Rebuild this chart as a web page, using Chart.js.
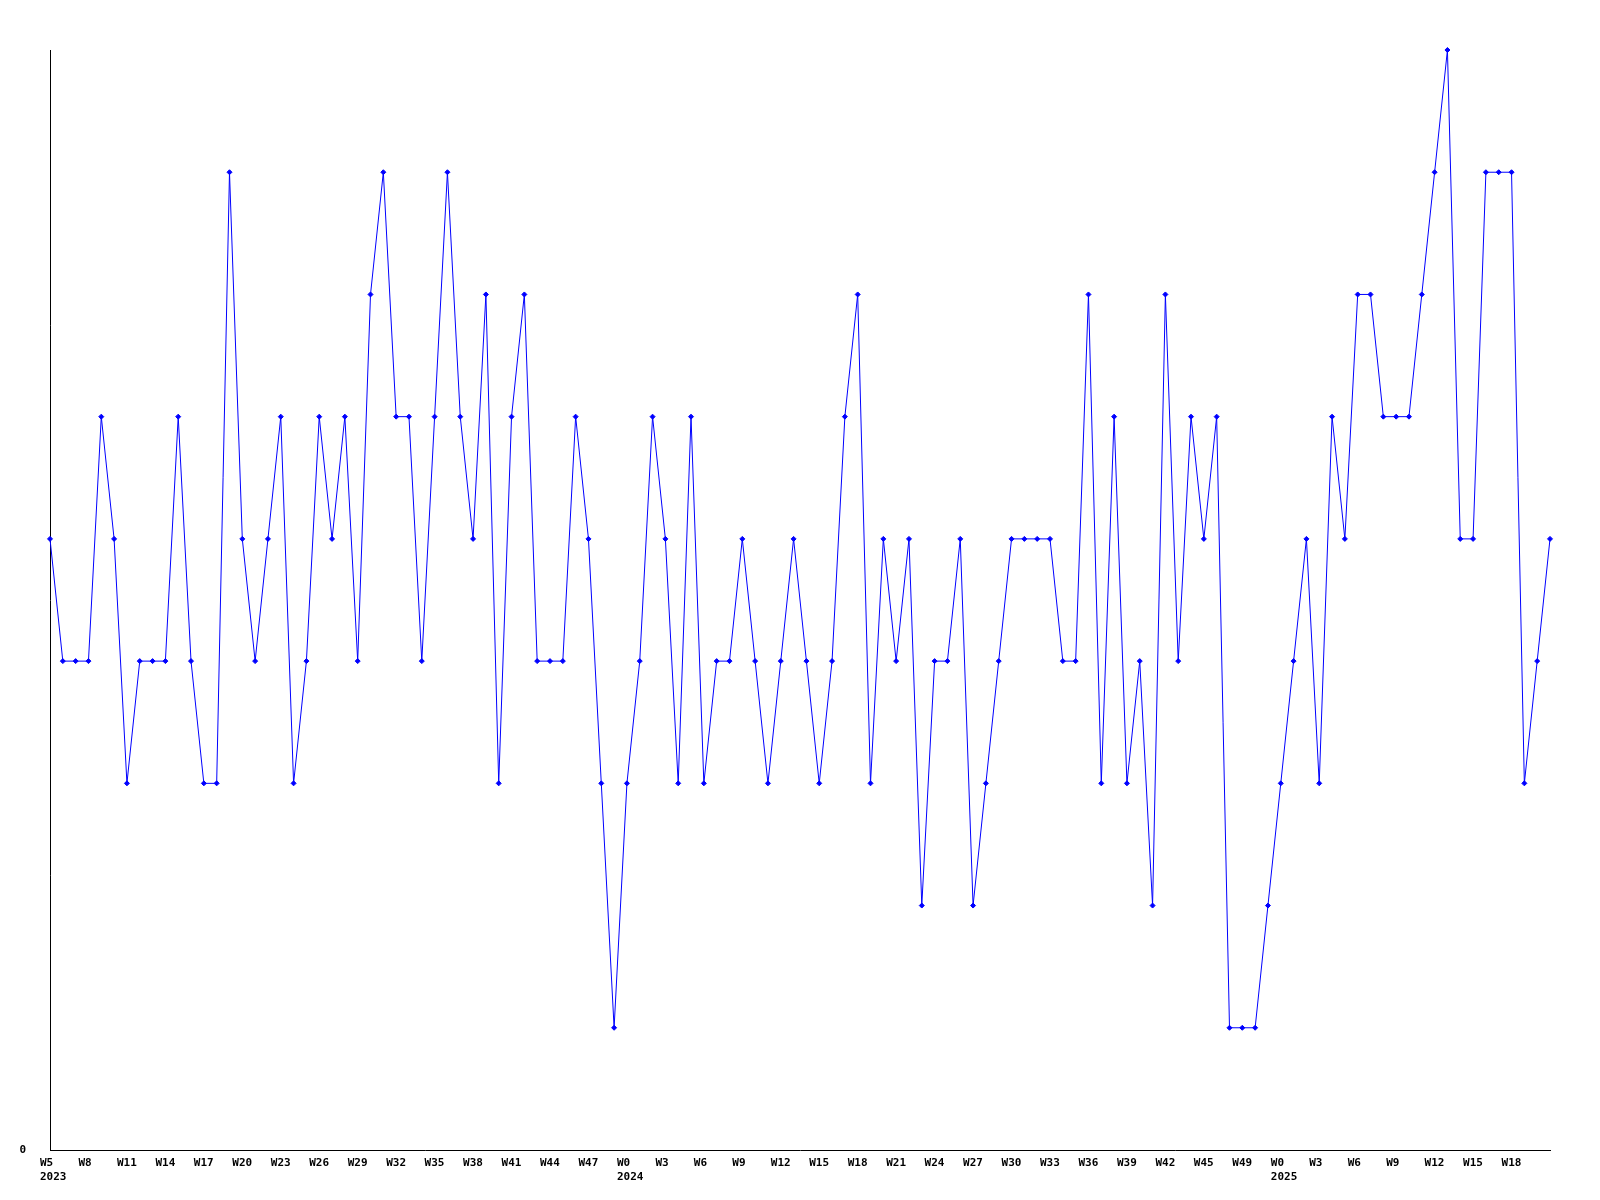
<!DOCTYPE html>
<html>
<head>
<meta charset="utf-8">
<script src="https://cdn.jsdelivr.net/npm/chart.js@4/dist/chart.umd.min.js"></script>
<style>
  html, body { margin: 0; padding: 0; background: #fff; }
  #wrap { width: 1600px; height: 1200px; }
</style>
</head>
<body>
<div id="wrap"><canvas id="weekChart"></canvas></div>
<script>
// valeurs hebdomadaires (une par semaine, de W5 2023 à W20 2025)
const weeklyValues = [
  5, 4, 4, 4, 6, 5, 3, 4, 4, 4,
  6, 4, 3, 3, 8, 5, 4, 5, 6, 3,
  4, 6, 5, 6, 4, 7, 8, 6, 6, 4,
  6, 8, 6, 5, 7, 3, 6, 7, 4, 4,
  4, 6, 5, 3, 1, 3, 4, 6, 5, 3,
  6, 3, 4, 4, 5, 4, 3, 4, 5, 4,
  3, 4, 6, 7, 3, 5, 4, 5, 2, 4,
  4, 5, 2, 3, 4, 5, 5, 5, 5, 4,
  4, 7, 3, 6, 3, 4, 2, 7, 4, 6,
  5, 6, 1, 1, 1, 2, 3, 4, 5, 3,
  6, 5, 7, 7, 6, 6, 6, 7, 8, 9,
  5, 5, 8, 8, 8, 3, 4, 5
];

// une étiquette toutes les 3 semaines
const tickEvery = 3;
const tickLabels = [
  "W5", "W8", "W11", "W14", "W17", "W20", "W23", "W26", "W29", "W32",
  "W35", "W38", "W41", "W44", "W47", "W0", "W3", "W6", "W9", "W12",
  "W15", "W18", "W21", "W24", "W27", "W30", "W33", "W36", "W39", "W42",
  "W45", "W49", "W0", "W3", "W6", "W9", "W12", "W15", "W18"
];
// année affichée sous certaines étiquettes (index dans tickLabels)
const yearLabels = { 0: "2023", 15: "2024", 32: "2025" };

const yMin = 0;
const yMax = 9;

const axisFont = { family: "'DejaVu Sans Mono', monospace", size: 11, weight: "bold", lineHeight: 1.3 };

const ctx = document.getElementById("weekChart");
new Chart(ctx, {
  type: "line",
  data: {
    labels: weeklyValues.map((_, i) => i),
    datasets: [{
      data: weeklyValues,
      borderColor: "#0000ff",
      backgroundColor: "#0000ff",
      borderWidth: 1,
      tension: 0,
      pointStyle: "rectRot",
      pointRadius: 2.5,
      pointBorderWidth: 1,
      clip: false,
      fill: false
    }]
  },
  options: {
    responsive: true,
    maintainAspectRatio: false,
    animation: false,
    layout: { padding: { top: 50, right: 50, left: 0, bottom: 0 } },
    plugins: {
      legend: { display: false },
      tooltip: { enabled: false }
    },
    scales: {
      x: {
        offset: false,
        grid: { display: false, drawTicks: false },
        border: { display: true, color: "#000", width: 1 },
        afterFit: (scale) => { scale.height = 50; },
        ticks: {
          autoSkip: false,
          maxRotation: 0,
          minRotation: 0,
          align: "start",
          labelOffset: -10,
          padding: 6,
          color: "#000",
          font: axisFont,
          callback: (val, idx) => {
            if (idx % tickEvery !== 0) return null;
            const k = idx / tickEvery;
            const lbl = tickLabels[k];
            return yearLabels[k] ? [lbl, yearLabels[k]] : lbl;
          }
        }
      },
      y: {
        min: yMin,
        max: yMax,
        grid: { display: false, drawTicks: false },
        border: { display: true, color: "#000", width: 1 },
        afterFit: (scale) => { scale.width = 50; },
        ticks: {
          stepSize: 1,
          padding: 24,
          color: "#000",
          font: axisFont,
          callback: (v) => (v === 0 ? "0" : null)
        }
      }
    }
  }
});
</script>
</body>
</html>
